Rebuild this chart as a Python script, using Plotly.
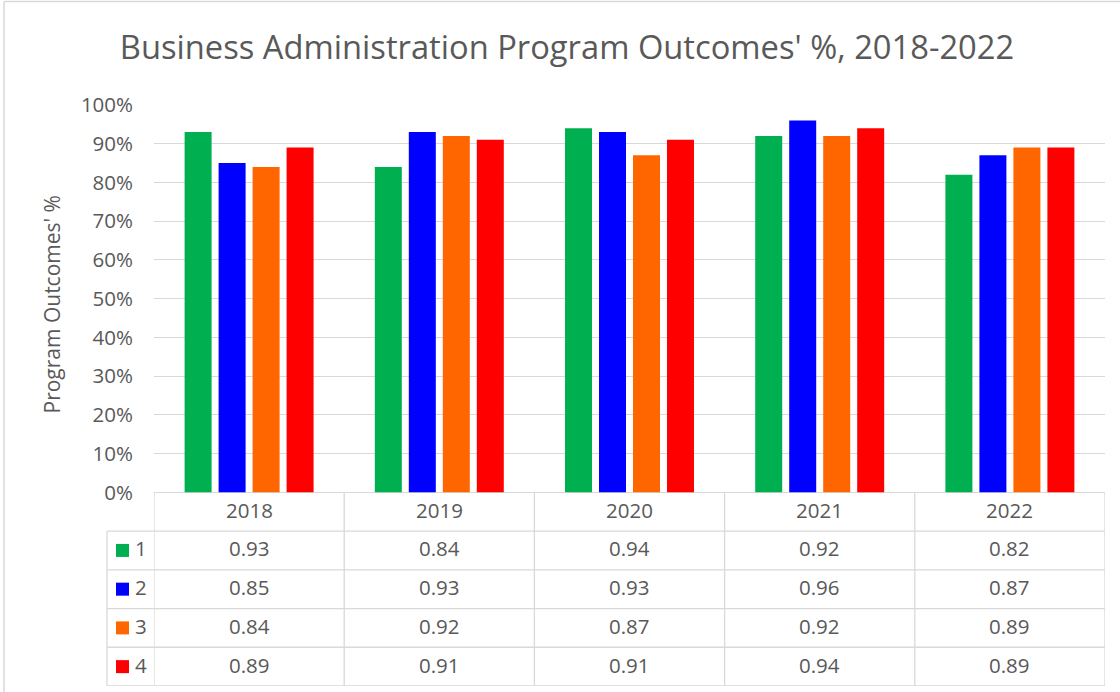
import plotly.graph_objects as go

# ---------------- data ----------------
years = ["2018", "2019", "2020", "2021", "2022"]
series_names = ["1", "2", "3", "4"]
po1 = [0.93, 0.84, 0.94, 0.92, 0.82]
po2 = [0.85, 0.93, 0.93, 0.96, 0.87]
po3 = [0.84, 0.92, 0.87, 0.92, 0.89]
po4 = [0.89, 0.91, 0.91, 0.94, 0.89]
series_values = [po1, po2, po3, po4]
colors = ["#00B050", "#0000FF", "#FF6600", "#FF0000"]
y_ticks = [i / 10 for i in range(11)]
y_ticktext = [f"{i * 10}%" for i in range(11)]

title_text = "Business Administration Program Outcomes' %, 2018-2022"
ytitle_text = "Program Outcomes' %"

# ---------------- layout geometry ----------------
W, H = 1120, 692
ML, MR, MT, MB = 154, 15, 105, 6
plot_w = W - ML - MR
plot_h = H - MT - MB
row_h = 0.1                      # table rows share the y scale (one row = 10%)
n_rows = len(series_names) + 1   # header + series rows
y_min = -row_h * n_rows
px_per_unit = plot_h / (1.0 - y_min)
FONT = "Open Sans"
TXT = "#595959"
GRID = "#D9D9D9"
LINE_W = 1.3
TFS = 20.5


def px_to_paper_x(px):
    return (px - ML) / plot_w


fig = go.Figure()
for name, vals, col in zip(series_names, series_values, colors):
    fig.add_trace(go.Bar(x=years, y=vals, name=name, marker=dict(color=col, line=dict(width=0))))

shapes = []
annotations = []

# table horizontal lines (row separators)
for r in range(1, n_rows + 1):
    yv = -row_h * r
    shapes.append(dict(type="line", xref="x", yref="y", x0=-0.5, x1=len(years) - 0.5,
                       y0=yv, y1=yv, line=dict(color=GRID, width=LINE_W)))
    shapes.append(dict(type="line", xref="paper", yref="y", x0=px_to_paper_x(107), x1=0,
                       y0=yv, y1=yv, line=dict(color=GRID, width=LINE_W)))
# table vertical lines
for c in range(len(years) + 1):
    xv = c - 0.5
    shapes.append(dict(type="line", xref="x", yref="y", x0=xv, x1=xv, y0=0, y1=y_min,
                       line=dict(color=GRID, width=LINE_W)))
shapes.append(dict(type="line", xref="paper", yref="y", x0=px_to_paper_x(107), x1=px_to_paper_x(107),
                   y0=-row_h, y1=y_min, line=dict(color=GRID, width=LINE_W)))

# header row: years
for i, yr in enumerate(years):
    annotations.append(dict(x=i, y=-row_h / 2, xref="x", yref="y", text=yr, showarrow=False,
                            xanchor="center", yanchor="middle", yshift=2,
                            font=dict(family=FONT, size=TFS, color=TXT)))
# series rows
half = 6.5 / px_per_unit
for r, (name, vals, col) in enumerate(zip(series_names, series_values, colors)):
    yc = -row_h * (r + 1) - row_h / 2
    for i, v in enumerate(vals):
        annotations.append(dict(x=i, y=yc, xref="x", yref="y", text=f"{v:.2f}", showarrow=False,
                                xanchor="center", yanchor="middle", yshift=2,
                                font=dict(family=FONT, size=TFS, color=TXT)))
    shapes.append(dict(type="rect", xref="paper", yref="y", x0=px_to_paper_x(116), x1=px_to_paper_x(129),
                       y0=yc - half, y1=yc + half, fillcolor=col, line=dict(width=0)))
    annotations.append(dict(x=px_to_paper_x(141), y=yc, xref="paper", yref="y", text=name,
                            xanchor="center", yanchor="middle", yshift=2,
                            showarrow=False, font=dict(family=FONT, size=TFS, color=TXT)))

# y axis title
annotations.append(dict(x=px_to_paper_x(52), y=0.485, xref="paper", yref="y", text=ytitle_text,
                        xanchor="center", yanchor="middle",
                        textangle=-90, showarrow=False, font=dict(family=FONT, size=21, color=TXT)))

# chart outer border (top and left)
top_y = 1 + (MT - 1.5) / plot_h
shapes.append(dict(type="line", xref="paper", yref="paper", x0=px_to_paper_x(4), x1=px_to_paper_x(1120),
                   y0=top_y, y1=top_y, line=dict(color=GRID, width=1.5)))
shapes.append(dict(type="line", xref="paper", yref="paper", x0=px_to_paper_x(4), x1=px_to_paper_x(4),
                   y0=-MB / plot_h, y1=top_y, line=dict(color=GRID, width=1.5)))

fig.update_layout(
    width=W, height=H,
    margin=dict(l=ML, r=MR, t=MT, b=MB),
    paper_bgcolor="white", plot_bgcolor="white",
    barmode="group", bargap=0.285, bargroupgap=0.206,
    showlegend=False,
    title=dict(text=title_text, x=567 / W, xanchor="center", xref="container",
               y=1 - 48 / H, yanchor="middle", yref="container",
               font=dict(family=FONT, size=32.7, color=TXT)),
    xaxis=dict(type="category", range=[-0.5, len(years) - 0.5], showticklabels=False,
               showgrid=False, zeroline=False, showline=False, fixedrange=True),
    yaxis=dict(range=[y_min, 1.0], tickvals=y_ticks, ticktext=y_ticktext,
               showgrid=True, gridcolor=GRID, gridwidth=LINE_W, zeroline=False, showline=False,
               ticks="", ticklabelstandoff=20,
               tickfont=dict(family=FONT, size=TFS, color=TXT)),
    shapes=shapes, annotations=annotations,
    font=dict(family=FONT, color=TXT),
)

fig.write_html("out.html", config={"displayModeBar": False},
               post_script="document.body.style.margin='0';document.body.style.overflow='hidden';")
